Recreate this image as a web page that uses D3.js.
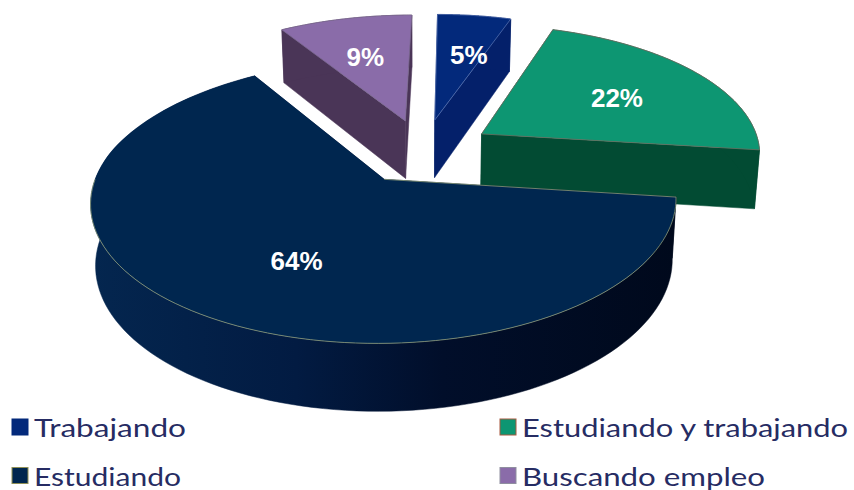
<!DOCTYPE html>
<html>
<head>
<meta charset="utf-8">
<script src="https://cdn.jsdelivr.net/npm/d3@7"></script>
<style>
  html, body { margin: 0; padding: 0; background: #fff; }
  svg { display: block; }
</style>
</head>
<body>
<div id="chart"></div>
<script>
// data
const categories = ["Trabajando", "Estudiando y trabajando", "Estudiando", "Buscando empleo"];
const percents = [5, 22, 64, 9];

// colours per slice
const topColors = ["#03297b", "#0d9672", "#00264f", "#8a6ca9"];
const wallColors = ["#04206a", "#024b33", "url(#mainWall)", "#4a3557"];
const edgeColors = ["#5470ae", "#6d6d5f", "#8b9a78", "#7b6a90"];
const edgeShare = [1, 1, 0.75, 1]; // how much of the rim carries the thin line
const swatchEdges = ["#03297b", "#a8593f", "#8f8f55", "#8f8f9f"];
const legendInk = "#262c63";
const legendWidths = [152, 326, 147, 243]; // wide gothic face in the original

const width = 854, height = 490;
const explode = 0.25;   // slice pull-out, in disc radii
const tilt = 0.15;      // perspective strength
const shear = -0.018;   // back half leans right a little
const thickness = 59;   // px at disc centre
const floorShrink = 0.985; // bottom face is a bit narrower
const labelRadius = 0.6;
const labelTurn = [3.5, 2.3, -6, -0.9]; // degrees off each slice's middle

const svg = d3.select("#chart").append("svg")
  .attr("width", width).attr("height", height)
  .attr("viewBox", `0 0 ${width} ${height}`);

const grad = svg.append("defs").append("linearGradient")
  .attr("id", "mainWall").attr("gradientUnits", "userSpaceOnUse")
  .attr("x1", 92).attr("x2", 676).attr("y1", 0).attr("y2", 0);
[[0, "#04264f"], [0.35, "#021b42"], [0.6, "#010e2a"], [1, "#00091c"]].forEach(([o, c]) =>
  grad.append("stop").attr("offset", o).attr("stop-color", c));

// disc coordinates to px
const xScale = d3.scaleLinear().domain([-1, 1]).range([143, 703]);
const yScale = d3.scaleLinear().domain([-1, 1]).range([21, 281]);

const project = (X, Z, floor) => {
  const s = 1 / (1 - tilt * Z);
  const x0 = xScale(0);
  const x = xScale((X + shear * Math.min(Z, 0)) * s);
  return [
    floor ? x0 + (x - x0) * floorShrink : x,
    yScale(Z * s) + (floor ? thickness * Math.pow(s, 0.7) : 0)
  ];
};

const pie = d3.pie().sort(null).value(d => d);
const arcs = pie(percents);

const slices = arcs.map((a, i) => {
  const mid = (a.startAngle + a.endAngle) / 2;
  const ox = explode * Math.sin(mid), oz = -explode * Math.cos(mid);
  const at = (ang, r) => [ox + r * Math.sin(ang), oz - r * Math.cos(ang)];
  const rim = d3.range(0, 121).map(k => at(a.startAngle + (a.endAngle - a.startAngle) * k / 120, 1));
  return { i, mid, at, apex: [ox, oz], rim };
});

const closedLine = d3.line().curve(d3.curveLinearClosed);
const openLine = d3.line();
const topPt = p => project(p[0], p[1], false);
const floorPt = p => project(p[0], p[1], true);

// back to front
const drawOrder = [3, 0, 1, 2];
drawOrder.forEach(i => {
  const s = slices[i];
  const g = svg.append("g");
  const first = s.rim[0], last = s.rim[s.rim.length - 1];

  // the two cut faces, then the curved wall; the top face hides what is behind
  [[s.apex, first], [last, s.apex]].forEach(([p, q]) => {
    g.append("path")
      .attr("d", closedLine([topPt(p), topPt(q), floorPt(q), floorPt(p)]))
      .attr("fill", wallColors[i])
      .attr("stroke", wallColors[i])
      .attr("stroke-width", 0.5);
  });
  g.append("path")
    .attr("d", closedLine([...s.rim.map(topPt), ...s.rim.slice().reverse().map(floorPt)]))
    .attr("fill", wallColors[i])
    .attr("stroke", wallColors[i])
    .attr("stroke-width", 0.5);

  // top face
  g.append("path")
    .attr("d", closedLine([topPt(s.apex), ...s.rim.map(topPt)]))
    .attr("fill", topColors[i]);

  // thin rim line
  const shown = s.rim.slice(0, Math.round(s.rim.length * edgeShare[i]));
  const trace = edgeShare[i] === 1
    ? [s.apex, ...shown, s.apex]
    : [s.apex, ...shown];
  g.append("path")
    .attr("d", openLine(trace.map(topPt)))
    .attr("fill", "none")
    .attr("stroke", edgeColors[i])
    .attr("stroke-width", 0.8);
});

// percent labels
arcs.forEach((a, i) => {
  const s = slices[i];
  const p = s.at(s.mid + labelTurn[i] * Math.PI / 180, labelRadius);
  const [x, y] = topPt(p);
  svg.append("text")
    .attr("x", x).attr("y", y)
    .attr("text-anchor", "middle")
    .attr("dominant-baseline", "central")
    .attr("font-family", "'Liberation Sans', Arial, sans-serif")
    .attr("font-weight", "bold")
    .attr("font-size", 26)
    .attr("fill", "#fff")
    .text(`${percents[i]}%`);
});

// legend, two columns filled row by row
const legendX = d3.scaleOrdinal().domain([0, 1]).range([12, 500]);
const legendY = d3.scaleOrdinal().domain([0, 1]).range([419, 467.5]);
categories.forEach((name, i) => {
  const col = i === 0 || i === 2 ? 0 : 1;
  const row = i < 2 ? 0 : 1;
  svg.append("rect")
    .attr("x", legendX(col)).attr("y", legendY(row))
    .attr("width", 16).attr("height", 16)
    .attr("fill", topColors[i])
    .attr("stroke", swatchEdges[i])
    .attr("stroke-width", 1);
  svg.append("text")
    .attr("x", legendX(col) + 22).attr("y", legendY(row) + 18)
    .attr("font-family", "Lato, 'Open Sans', sans-serif")
    .attr("font-size", 25.5)
    .attr("textLength", legendWidths[i])
    .attr("lengthAdjust", "spacingAndGlyphs")
    .attr("fill", legendInk)
    .text(name);
});
</script>
</body>
</html>
